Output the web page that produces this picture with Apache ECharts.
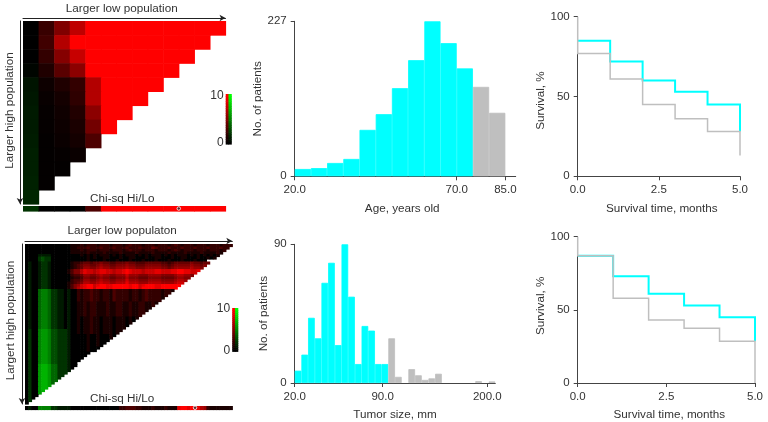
<!DOCTYPE html>
<html><head><meta charset="utf-8">
<style>html,body{margin:0;background:#fff}#c{width:768px;height:422px}</style>
<script src="https://cdn.jsdelivr.net/npm/echarts@6/dist/echarts.min.js"></script>
</head><body><div id="c"></div>
<script>
// signed Chi-sq cells: positive = red (Hi), negative = green (Lo)
const heat1Rows = [
 [0,2.2,5,7.5,10,10,10,10,10,10,10,10,10],
 [0,2.5,7,10,10,10,10,10,10,10,10,10],
 [0,2,5.2,7.8,10,10,10,10,10,10,10],
 [-0.2,1.2,3.5,5.5,10,10,10,10,10,10],
 [-0.8,0.5,1.2,2,7,10,10,10,10],
 [-0.9,0.3,0.8,1.8,7,10,10,10],
 [-1,0.2,0.6,1.3,5.5,10,10],
 [-1,0.2,0.5,1,4.5,10],
 [-1.1,0.1,0.4,0.8,3],
 [-1.2,0.1,0.2,0.4],
 [-1.2,0.1,0.1],
 [-1.3,0.1],
 [-1.5]
];
const heat1Strip = [-2,0,0,0,3,10,10,10,10,10,10,10,10];
const heat1DotAt = 10;
// one character per cell: 0-9,A = red 0..10, a-j = green -1..-10
const heat2Rows = [
 "0000000000000011121222122212221232221222122212321222122212221222",
 "000000000000001122232223222322232223222432223222322232223222322",
 "00000000000000111212221222122212322212221222123212221222122212",
 "0000000000000011111211112111121111211112111121111211112111121",
 "0000aaaa0000000001010101110101011101010111010101110101010101",
 "0000bcbb000000000001010011000100110001001100010011000100101",
 "0000bcbb000000000001000010001000100010001000100010001000",
 "0a00abba0000001223443445443344454433344444332344444544344",
 "0a00abba000000123455445655445556554445555544345555565545",
 "0a00abba00000012346655676655666766555666665545666667665",
 "0a00abba00000135579887899887889A988878889988899AA998899",
 "0a00abba00000135579887899887889A988878889988899AA99889",
 "0a00abba00000023346655676655666866655566665555677665",
 "0a00abba0000001223554456554455575554445555444456655",
 "0a00abba000000233466556766556668666555666655556776",
 "0a00abba00000123457766787766777977766677776666788",
 "0a00abba00000135689AA89AA99AAAAA9AA89AAA99AAAAAA",
 "0a00abba00000135789AA8AAA99AAAAA9AA8AAAA99AAAAA",
 "0a00deedbbaa0a00212232212213222212212322221221",
 "0a00deedbbaa0a0021223221221322221221232222122",
 "0a00deedbbaa0a002122322122132222122123222212",
 "0a00deedbbaa0a00212232212213222212212322221",
 "0a00deedbbaa0a0021223221221322221221232222",
 "0a00deedbbaa0a001121221112112211211221121",
 "0a00deedbbaa0a00112122111211221121122112",
 "0a00deedbbaa0a0011212211121122112112211",
 "0a00deedbbaa0a001121221112112211211221",
 "0a00deedbbaa0a00112122111211221121122",
 "0a00deedbbaa0a0011212211121122112112",
 "0a00deedbbaa0a001011211011101110101",
 "0a00deedbbaa0a00101121101110111010",
 "0a00deedbbaa0a0010112110111011101",
 "0a00deedbbaa0a001011211011101110",
 "0a00deedbbaa0a00101121101110111",
 "0b00effeccbbba0010112110111011",
 "0b00effeccbbba001011211011101",
 "0b00effeccbbba00000100100010",
 "0b00effeccbbba0000010010001",
 "0b00effeccbbba000001001000",
 "0b00effeccbbba00000100100",
 "0b00effeccbbba0000010010",
 "0b00effeccbbba000001000",
 "0b00effeccbbba00000100",
 "0b00effeccbbba000000",
 "0b00effeccbbba00000",
 "0b00effeccbbba0000",
 "0b00effeccbbba000",
 "0b00effeccbbba00",
 "0b00fggfddbbba00",
 "0b00fggfddbbba0",
 "0b00fggfddbbba",
 "0b00fggfddbbb",
 "0b00fggfddbb",
 "0b00fggfddb",
 "0b00fggfdd",
 "0b00fggfd",
 "0b00fggf",
 "0b00fgg",
 "0b00fg",
 "0b00f",
 "0b00",
 "0b0",
 "0b",
 "0"
];
const heat2Strip = "0a00eeeebbaaaa0000000000000002233322111211121119AA9AA976211111110";
const heat2DotAt = 52.5;
const colourBarSteps = [0,0.5,1,1.5,2,2.5,3,3.5,4,4.5,5,5.5,6,6.5,7,7.5,8,8.5,9,9.5,10];

const ageBinStarts = [20,25,30,35,40,45,50,55,60,65,70,75,80];
const ageCyan = [10.7,12,19.5,25.4,68,91,129,170,227,195,158];
const ageGray = [131,93];
const ageTicks = [20,70,85];

const tumorCyan = [8,18.4,42.3,29,65,78,24.6,90,56,12.3,37,34,12.3,12.3];
const tumorGray = [29,4,0,9,5,2,3,6,0,0,0,0,0,1.2,0,1];
const tumorTickBins = [0,13.15,28.8];
const tumorTickLabels = ['20.0','90.0','200.0'];

const km1Time = [0,1,2,3,4,5,5];
const km1Cyan = [85,72,60,53,45,45,28];
const km1GrayTime = [0,0,1,2,3,4,5,5];
const km1Gray = [100,77,61,45,36,28,28,13];
const km2Time = [0,1,2,3,4,5,5];
const km2Cyan = [87,73,61,53,45,45,28.6];
const km2GrayTime = [0,0,1,2,3,4,5,5];
const km2Gray = [100,87,58,43,37.5,28.6,28.6,0];

const INK='#333', AXIS='#444', FONT='"Liberation Sans",Arial,sans-serif', CYAN='#00ffff', GRAY='#bfbfbf';
const decode = ch => ch==='A' ? 10 : ch>='a' ? -(ch.charCodeAt(0)-96) : +ch;
const range = n => Array.from({length:n},(_,i)=>i);
const heat1Cells=[], heat2Cells=[];
heat1Rows.forEach((row,r)=>row.forEach((v,c)=>heat1Cells.push([c,r,v])));
heat2Rows.forEach((row,r)=>[...row.slice(0,64-r)].forEach((ch,c)=>heat2Cells.push([c,r,decode(ch)])));
const strip1Cells=heat1Strip.map((v,c)=>[c,0,v]);
const strip2Cells=[...heat2Strip].slice(0,64).map((ch,c)=>[c,0,decode(ch)]);
const barCells=[];
colourBarSteps.forEach((v,i)=>{barCells.push([0,i,v]);barCells.push([1,i,-v]);});

const NAME_SIZE=11.7;
const txt=(s=NAME_SIZE)=>({color:INK,fontSize:s,fontFamily:FONT});
const grids=[
 {left:23,top:21,width:202.5,height:183},
 {left:23,top:206,width:202.5,height:5},
 {left:225.7,top:94,width:5.5,height:50},
 {left:25,top:244,width:207.3,height:160},
 {left:25,top:406,width:207.3,height:3.5},
 {left:232.2,top:308,width:5.5,height:43.3},
 {left:294.7,top:21.3,width:221,height:155},
 {left:294.7,top:244.3,width:200.6,height:139},
 {left:577.7,top:16.7,width:162.3,height:159.6},
 {left:577.7,top:236.7,width:177.3,height:146.6}
];
const lineOf=symbol=>({show:true,symbol,symbolSize:[5,6],lineStyle:{color:'#222',width:1}});
const heatX=(g,n,name,pad,gap)=>({gridIndex:g,type:'category',data:range(n),position:'top',offset:3,axisTick:{show:false},axisLabel:{show:false},axisLine:lineOf(['none','arrow']),
  name,nameLocation:'middle',nameGap:gap,nameTextStyle:{...txt(),padding:[0,pad,0,0],verticalAlign:'bottom'}});
const heatY=(g,n,name,gap,pad)=>({gridIndex:g,type:'category',data:range(n),inverse:true,position:'left',offset:3,axisTick:{show:false},axisLabel:{show:false},axisLine:lineOf(['arrow','none']),
  name,nameLocation:'middle',nameGap:gap,nameTextStyle:{...txt(),padding:pad}});
const stripX=(g,n,pad)=>({gridIndex:g,type:'category',data:range(n),position:'top',axisLine:{show:false},axisTick:{show:false},axisLabel:{show:false},
  name:'Chi-sq Hi/Lo',nameLocation:'middle',nameGap:1.5,nameTextStyle:{...txt(),padding:[0,pad,0,0],verticalAlign:'bottom'}});
const hiddenCat=(g,d)=>({gridIndex:g,type:'category',data:d,show:false});
const dotX=(g,n)=>({gridIndex:g,type:'value',min:0,max:n,show:false});
const barX=g=>({gridIndex:g,type:'category',data:['Hi','Lo'],show:false});
const barY=g=>({gridIndex:g,type:'category',data:colourBarSteps,axisLine:{show:false},axisTick:{show:false},
  axisLabel:{interval:0,margin:2,...txt(12),formatter:v=>(v==='0'||v==='10')?v:''}});
const plainLine={show:true,onZero:false,lineStyle:{color:AXIS,width:1}};
const tick={show:true,length:4,lineStyle:{color:AXIS,width:1}};
const valY=(g,max,interval,name,gap,pad)=>({gridIndex:g,type:'value',min:0,max,interval,splitLine:{show:false},axisLine:plainLine,axisTick:tick,
  axisLabel:{margin:8,...txt(11.5)},name,nameLocation:'middle',nameGap:gap,nameTextStyle:{...txt(),padding:pad||0}});
const valX=(g,min,max,ticks,fmt,name,gap,pad)=>({gridIndex:g,type:'value',min,max,splitLine:{show:false},axisLine:plainLine,
  axisTick:{...tick,customValues:ticks},axisLabel:{margin:8,...txt(11.5),customValues:ticks,formatter:fmt,showMinLabel:true,showMaxLabel:true},
  name,nameLocation:'middle',nameGap:gap,nameTextStyle:{...txt(),padding:pad||0}});

const renderCell=(params,api)=>{
  const p=api.coord([api.value(0),api.value(1)]), s=api.size([1,1]);
  return {type:'rect',shape:{x:p[0]-s[0]/2,y:p[1]-s[1]/2,width:s[0]+0.6,height:s[1]+0.6},style:{fill:api.visual('color')}};
};
const heat=(x,y,data)=>({type:'custom',xAxisIndex:x,yAxisIndex:y,data,renderItem:renderCell,encode:{x:0,y:1},silent:true,clip:false,progressive:0});
const bars=(g,data,color)=>({type:'bar',xAxisIndex:g,yAxisIndex:g,data,barGap:'-100%',barCategoryGap:0,itemStyle:{color,borderColor:color,borderWidth:0.8},silent:true});
const dot=(x,y,at)=>({type:'scatter',xAxisIndex:x,yAxisIndex:y,data:[[at,0]],symbolSize:3.5,itemStyle:{color:'#333',borderColor:'#fff',borderWidth:1},silent:true,z:5});
const km=(g,times,vals,color,width)=>({type:'line',xAxisIndex:g,yAxisIndex:g,step:'end',showSymbol:false,clip:false,silent:true,
  data:times.map((t,i)=>[t,vals[i]]),lineStyle:{color,width,join:'miter'}});

const ageCentre=i=>ageBinStarts[i]+2.5;
const option={
 animation:false,
 backgroundColor:'#fff',
 grid:grids,
 visualMap:{show:false,seriesIndex:[0,1,2,3,4,5],dimension:2,min:-10,max:10,inRange:{color:['#00ff00','#000000','#ff0000']}},
 xAxis:[
  heatX(0,13,'Larger low population',5,3),
  stripX(1,13,4),
  barX(2),
  heatX(3,64,'Larger low populaton',13,4),
  stripX(4,64,13),
  barX(5),
  valX(6,20,88.2,ageTicks,v=>v.toFixed(1),'Age, years old',26,[0,6,0,0]),
  valX(7,0,30,tumorTickBins,v=>tumorTickLabels[tumorTickBins.indexOf(v)],'Tumor size, mm',26),
  valX(8,0,5,[0,2.5,5],v=>v.toFixed(1),'Survival time, months',26,[0,0,0,6]),
  valX(9,0,5,[0,2.5,5],v=>v.toFixed(1),'Survival time, months',26,[0,0,0,6]),
  dotX(1,13),
  dotX(4,64)
 ],
 yAxis:[
  heatY(0,13,'Larger high population',4,[0,0,0,4]),
  hiddenCat(1,['Hi/Lo']),
  barY(2),
  heatY(3,64,'Largert high population',5,[0,0,0,7]),
  hiddenCat(4,['Hi/Lo']),
  barY(5),
  valY(6,227,227,'No. of patients',31),
  valY(7,90,90,'No. of patients',25),
  valY(8,100,50,'Survival, %',28,[0,8,0,0]),
  valY(9,100,50,'Survival, %',28,[0,0,0,8])
 ],
 series:[
  heat(0,0,heat1Cells),heat(1,1,strip1Cells),heat(2,2,barCells),
  heat(3,3,heat2Cells),heat(4,4,strip2Cells),heat(5,5,barCells),
  dot(10,1,heat1DotAt),dot(11,4,heat2DotAt),
  bars(6,ageCyan.map((v,i)=>[ageCentre(i),v]),CYAN),
  bars(6,ageGray.map((v,i)=>[ageCentre(i+ageCyan.length),v]),GRAY),
  bars(7,tumorCyan.map((v,i)=>[i+0.5,v]),CYAN),
  bars(7,tumorGray.map((v,i)=>[i+tumorCyan.length+0.5,v]).filter(d=>d[1]>0),GRAY),
  km(8,km1Time,km1Cyan,CYAN,2),km(8,km1GrayTime,km1Gray,GRAY,1.5),
  km(9,km2Time,km2Cyan,CYAN,2),km(9,km2GrayTime,km2Gray,GRAY,1.5)
 ]
};
const chart=echarts.init(document.getElementById('c'),null,{renderer:'canvas'});
chart.setOption(option);
</script></body></html>
